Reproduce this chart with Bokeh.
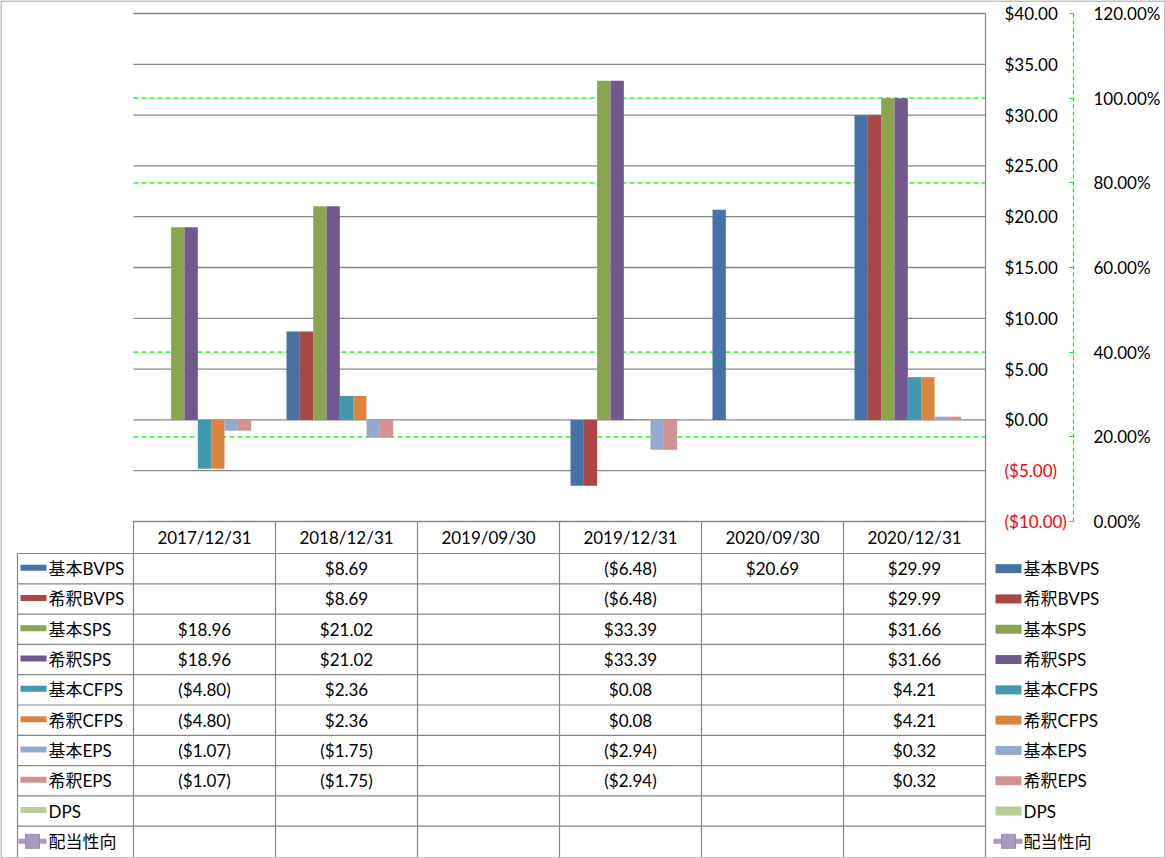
from bokeh.plotting import figure
from bokeh.models import (Range1d, LinearAxis, FixedTicker, Grid,
                          NumeralTickFormatter, CustomJSTickFormatter, ColumnDataSource)
from bokeh.transform import dodge
from bokeh.embed import file_html
from bokeh.resources import INLINE
from bokeh.core.properties import value

# ---------------- data ----------------
dates = ["2017/12/31", "2018/12/31", "2019/09/30", "2019/12/31", "2020/09/30", "2020/12/31"]
series_names = ["基本BVPS", "希釈BVPS", "基本SPS", "希釈SPS", "基本CFPS", "希釈CFPS",
                "基本EPS", "希釈EPS", "DPS"]
line_name = "配当性向"
N = None
basic_bvps = [N, 8.69, N, -6.48, 20.69, 29.99]
diluted_bvps = [N, 8.69, N, -6.48, N, 29.99]
basic_sps = [18.96, 21.02, N, 33.39, N, 31.66]
diluted_sps = [18.96, 21.02, N, 33.39, N, 31.66]
basic_cfps = [-4.80, 2.36, N, 0.08, N, 4.21]
diluted_cfps = [-4.80, 2.36, N, 0.08, N, 4.21]
basic_eps = [-1.07, -1.75, N, -2.94, N, 0.32]
diluted_eps = [-1.07, -1.75, N, -2.94, N, 0.32]
dps = [N, N, N, N, N, N]
payout_ratio = [N, N, N, N, N, N]
series_values = [basic_bvps, diluted_bvps, basic_sps, diluted_sps, basic_cfps,
                 diluted_cfps, basic_eps, diluted_eps, dps]
colors = ["#4572A7", "#AA4643", "#89A54E", "#71588F", "#4198AF", "#DB843D",
          "#93A9CF", "#D19392", "#B9CD96"]
line_color = "#A99BBD"
primary_ticks = [-10, -5, 0, 5, 10, 15, 20, 25, 30, 35, 40]
secondary_ticks = [0.0, 0.2, 0.4, 0.6, 0.8, 1.0, 1.2]

# ---------------- layout constants (page pixels) ----------------
W, H = 1165, 858
PLOT_LEFT, PLOT_TOP, PLOT_BOTTOM = 133, 13, 521
COL_W = 142
LABEL_LEFT = 17
HEADER_TOP, ROW_TOP, ROW_H = 521, 553, 30.3
TABLE_BOTTOM = 857
SEC_AXIS_X = 1073

FONT_S = "Lato, 'Noto Sans CJK JP', sans-serif"
FONT = value(FONT_S)
FS = "17px"
GRAY = "#868686"
GREEN = "#00F000"


def money(v):
    if v is None:
        return ""
    return "(${:.2f})".format(-v) if v < 0 else "${:.2f}".format(v)


y_lo, y_hi = primary_ticks[0], primary_ticks[-1]
s_lo, s_hi = secondary_ticks[0], secondary_ticks[-1]
px_per_y = (PLOT_BOTTOM - PLOT_TOP) / (y_hi - y_lo)
px_per_s = (PLOT_BOTTOM - PLOT_TOP) / (s_hi - s_lo)
top_pad = PLOT_TOP
bot_pad = H - PLOT_BOTTOM

# category i occupies [X0 + i, X0 + i + 1] on the x scale
X0 = 1.0
x_range = Range1d(X0 - PLOT_LEFT / COL_W, X0 + (W - PLOT_LEFT) / COL_W)
y_range = Range1d(y_lo - bot_pad / px_per_y, y_hi + top_pad / px_per_y)

p = figure(width=W, height=H, x_range=x_range, y_range=y_range,
           min_border=0, x_axis_location=None, y_axis_location=None,
           toolbar_location=None, output_backend="svg", outline_line_color=None)
for r in list(p.center):
    if isinstance(r, Grid):
        r.visible = False
p.center = [r for r in p.center if not isinstance(r, Grid)]

p.extra_y_ranges = {
    "pct": Range1d(s_lo - bot_pad / px_per_s, s_hi + top_pad / px_per_s),
    "table": Range1d(H, 0),
}
p.extra_x_ranges = {"table": Range1d(0, W)}

ncat = len(dates)
cat_idx = list(range(ncat))
tk = dict(x_range_name="table", y_range_name="table")

# ---------------- gridlines (restricted to the plot area) ----------------
p.multi_line(xs=[[X0, X0 + ncat] for _ in secondary_ticks], ys=[[t, t] for t in secondary_ticks],
             y_range_name="pct", line_color=GREEN, line_dash="5 3", line_width=1.2)
p.multi_line(xs=[[X0, X0 + ncat] for _ in primary_ticks], ys=[[t, t] for t in primary_ticks],
             line_color=GRAY, line_width=1.3)

# ---------------- bars ----------------
slot = (120 / 142) / 9
for i, (name, vals, col) in enumerate(zip(series_names, series_values, colors)):
    xs = [X0 + c + 0.5 for c, v in zip(cat_idx, vals) if v is not None]
    ys = [v for v in vals if v is not None]
    if not xs:
        continue
    src = ColumnDataSource(dict(pos=xs, val=ys))
    p.vbar(x=dodge("pos", (i - 4) * slot), top="val", bottom=0,
           width=slot, source=src, fill_color=col, line_color=None)

# ---------------- axes ----------------
label_kw = dict(major_label_text_font=FONT_S, major_label_text_font_size=FS,
                minor_tick_line_color=None, major_tick_in=0, major_tick_out=0)

ax1 = LinearAxis(ticker=FixedTicker(ticks=[t for t in primary_ticks if t >= 0]),
                 formatter=CustomJSTickFormatter(code="return '$' + tick.toFixed(2);"),
                 fixed_location=X0 + ncat,
                 axis_line_color=None, major_tick_line_color=None,
                 major_label_standoff=19, major_label_text_color="black", **label_kw)
p.add_layout(ax1, "right")

ax_neg = LinearAxis(ticker=FixedTicker(ticks=[t for t in primary_ticks if t < 0]),
                    formatter=CustomJSTickFormatter(code="return '($' + (-tick).toFixed(2) + ')';"),
                    fixed_location=X0 + ncat,
                    axis_line_color=None, major_tick_line_color=None,
                    major_label_standoff=19, major_label_text_color="red", **label_kw)
p.add_layout(ax_neg, "right")

ax2 = LinearAxis(y_range_name="pct", ticker=FixedTicker(ticks=secondary_ticks),
                 formatter=NumeralTickFormatter(format="0.00%"),
                 fixed_location=X0 + ncat + (SEC_AXIS_X - (PLOT_LEFT + COL_W * ncat)) / COL_W,
                 bounds=(s_lo, s_hi),
                 axis_line_color=GREEN, axis_line_dash="4 3", axis_line_width=1.2,
                 major_tick_line_color=GREEN,
                 minor_tick_line_color=None, major_tick_in=4, major_tick_out=0,
                 major_label_text_font=FONT_S, major_label_text_font_size=FS,
                 major_label_standoff=20, major_label_text_color="black")
p.add_layout(ax2, "right")

# ---------------- data table ----------------
NROWS = len(series_names) + 1
right = PLOT_LEFT + COL_W * ncat

hx0, hx1, hy = [PLOT_LEFT], [right], [HEADER_TOP]
for r in range(NROWS):
    hx0.append(LABEL_LEFT)
    hx1.append(right)
    hy.append(ROW_TOP + r * ROW_H)
p.segment(x0=hx0, y0=hy, x1=hx1, y1=hy, line_color=GRAY, line_width=1.2, **tk)
# vertical rules; the right-most one also serves as the value-axis line
vx = [LABEL_LEFT] + [PLOT_LEFT + COL_W * i for i in range(ncat + 1)]
vy0 = [ROW_TOP] + [HEADER_TOP] * ncat + [PLOT_TOP]
p.segment(x0=vx, y0=vy0, x1=vx, y1=[TABLE_BOTTOM] * len(vx),
          line_color=GRAY, line_width=1.2, **tk)

# outer chart border
bx0 = [0.5, 0.5, W - 0.5, 0.5]
by0 = [0.5, H - 0.5, 0.5, 0.5]
bx1 = [W - 0.5, W - 0.5, W - 0.5, 0.5]
by1 = [0.5, H - 0.5, H - 0.5, H - 0.5]
p.segment(x0=bx0, y0=by0, x1=bx1, y1=by1, line_color=GRAY, line_width=1, **tk)

p.text(x=[PLOT_LEFT + COL_W * (i + 0.5) for i in cat_idx],
       y=[(HEADER_TOP + ROW_TOP) / 2] * ncat, text=dates,
       text_font=FONT, text_font_size=FS, text_align="center", text_baseline="middle",
       text_color="black", **tk)

cx, cy, ct = [], [], []
for r, vals in enumerate(series_values + [payout_ratio]):
    for i, v in enumerate(vals):
        if v is None:
            continue
        cx.append(PLOT_LEFT + COL_W * (i + 0.5))
        cy.append(ROW_TOP + (r + 0.5) * ROW_H)
        ct.append(money(v))
p.text(x=cx, y=cy, text=ct, text_font=FONT, text_font_size=FS,
       text_align="center", text_baseline="middle", text_color="black", **tk)

row_c = [ROW_TOP + (r + 0.5) * ROW_H for r in range(NROWS)]
names_all = series_names + [line_name]
nb = len(series_names)
p.rect(x=[33] * nb, y=[c - 1 for c in row_c[:nb]], width=26, height=6,
       fill_color=colors, line_color=None, **tk)
p.rect(x=[1008] * nb, y=row_c[:nb], width=26, height=9,
       fill_color=colors, line_color=None, **tk)
p.text(x=[48] * NROWS, y=row_c, text=names_all, text_font=FONT, text_font_size=FS,
       text_align="left", text_baseline="middle", text_color="black", **tk)
p.text(x=[1023] * NROWS, y=row_c, text=names_all, text_font=FONT, text_font_size=FS,
       text_align="left", text_baseline="middle", text_color="black", **tk)
yl = row_c[-1]
p.segment(x0=[18, 993], y0=[yl, yl], x1=[46, 1022], y1=[yl, yl],
          line_color=line_color, line_width=5, **tk)
p.scatter(x=[32, 1008], y=[yl, yl], marker="square", size=14,
          fill_color=line_color, line_color="#9A8BB3", **tk)

with open("out.html", "w") as f:
    f.write(file_html(p, INLINE))
